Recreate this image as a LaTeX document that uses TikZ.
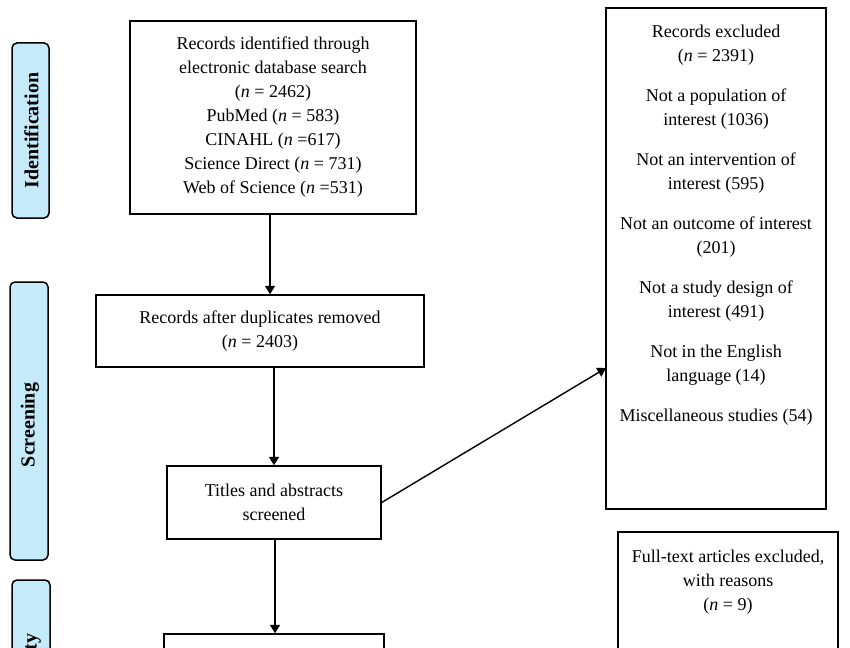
\documentclass[tikz,border=0pt]{standalone}
\usepackage{fontspec}
\setmainfont{Liberation Serif}
\usetikzlibrary{arrows.meta}
\definecolor{phase}{RGB}{197,234,250}
\newcommand{\nn}{\textit{n}}
\begin{document}
\begin{tikzpicture}[x=1pt,y=1pt,
  box/.style={draw=black,line width=1.4pt,rectangle,inner sep=0pt,align=center,
    font=\fontsize{18}{24}\selectfont},
  phasebox/.style={draw=black,line width=1.5pt,fill=phase,rounded corners=5pt,inner sep=0pt},
  phaselabel/.style={rotate=90,font=\fontsize{20}{22}\selectfont\bfseries},
  txt/.style={align=center,inner sep=0pt,font=\fontsize{18}{24}\selectfont},
  arr/.style={line width=1.4pt,-{Triangle[length=8.5pt,width=10pt]}}]
\useasboundingbox (0,0) rectangle (850,-647);
\clip (0,0) rectangle (850,-647);
\fill[white] (0,0) rectangle (850,-647);

% phase labels
\node[phasebox,minimum width=37pt,minimum height=175pt] (pid) at (30.5,-130.5) {};
\node[phaselabel] (pidt) at ([xshift=1pt]pid.center) {Identification};
\node[phasebox,minimum width=38pt,minimum height=278pt] (psc) at (29,-421) {};
\node[phaselabel] (psct) at ([xshift=1pt,yshift=-4pt]psc.center) {Screening};
\node[phasebox,minimum width=38pt,minimum height=176pt] (pel) at (31,-668) {};
\node[phaselabel] (pelt) at ([xshift=1pt,yshift=-8pt]pel.center) {Eligibility};

% main boxes
\node[box,minimum width=286pt,minimum height=193pt] (b1) at (273,-117.5)
  {Records identified through\\electronic database search\\(\nn{} = 2462)\\PubMed (\nn{} = 583)\\CINAHL (\nn{} =617)\\Science Direct (\nn{} = 731)\\Web of Science (\nn{} =531)};
\node[box,minimum width=328pt,minimum height=72pt] (b2) at (260,-331)
  {Records after duplicates removed\\(\nn{} = 2403)};
\node[box,minimum width=214pt,minimum height=73pt] (b3) at (274,-502.5)
  {Titles and abstracts\\screened};
\node[box,minimum width=220pt,minimum height=72pt] (b4) at (274,-670) {};

% exclusion boxes
\node[box,minimum width=220pt,minimum height=501pt] (ex) at (716,-258.5) {};
\node[txt,anchor=north] (ext) at ([yshift=-18pt]ex.north)
  {Records excluded\\(\nn{} = 2391)\\[16pt]
   Not a population of\\interest (1036)\\[16pt]
   Not an intervention of\\interest (595)\\[16pt]
   Not an outcome of interest\\(201)\\[16pt]
   Not a study design of\\interest (491)\\[16pt]
   Not in the English\\language (14)\\[16pt]
   Miscellaneous studies (54)};
\node[box,minimum width=220pt,minimum height=180pt] (ft) at (728,-622) {};
\node[txt,anchor=north] (ftt) at ([yshift=-19pt]ft.north)
  {Full-text articles excluded,\\with reasons\\(\nn{} = 9)};

% connectors
\coordinate (exin) at (606,-368);
\draw[arr] ([xshift=-3pt]b1.south) -- ([xshift=-3pt]b1.south |- b2.north);
\draw[arr] (b3.north |- b2.south) -- (b3.north);
\draw[arr] ([xshift=1pt]b3.south) -- ([xshift=1pt]b3.south |- b4.north);
\draw[arr] (b3.east) -- (exin);
\end{tikzpicture}
\end{document}
